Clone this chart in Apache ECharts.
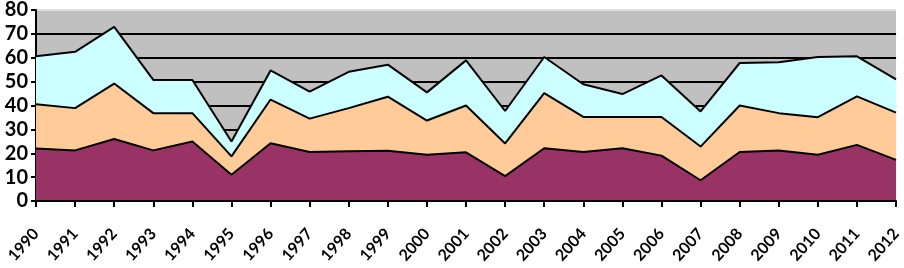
<!DOCTYPE html>
<html>
<head>
<meta charset="utf-8">
<script src="https://cdn.jsdelivr.net/npm/echarts@6/dist/echarts.min.js"></script>
<style>
  html, body { margin: 0; padding: 0; background: #fff; }
  #chart { width: 904px; height: 268px; }
</style>
</head>
<body>
<div id="chart"></div>
<script>
const years = ["1990", "1991", "1992", "1993", "1994", "1995", "1996", "1997", "1998", "1999", "2000", "2001",
  "2002", "2003", "2004", "2005", "2006", "2007", "2008", "2009", "2010", "2011", "2012"];

// bottom band (maroon)
const seriesA = [22, 21.2, 26, 21.2, 24.9, 11, 24.2, 20.5, 20.8, 21, 19.4, 20.4,
  10.4, 22.1, 20.5, 22.1, 19, 8.7, 20.5, 21.2, 19.4, 23.5, 17.2];
// middle band (peach)
const seriesB = [18.5, 17.7, 23.2, 15.6, 11.9, 7.7, 18.3, 14, 18.1, 22.7, 14.3, 19.6,
  13.7, 23.1, 14.7, 13.1, 16.2, 14.1, 19.5, 15.6, 15.7, 20.3, 19.8];
// top band (light cyan)
const seriesC = [20.1, 23.6, 23.7, 13.9, 13.9, 6.2, 12.2, 11.3, 15.2, 13.4, 11.8, 18.9,
  13.6, 15.1, 13.7, 9.6, 17.4, 14.7, 17.8, 21.3, 25.2, 16.8, 13.9];

const yTicks = { min: 0, max: 80, interval: 10 };

const myChart = echarts.init(document.getElementById("chart"));

const band = (name, data, color) => ({
  name: name,
  type: "line",
  stack: "total",
  data: data,
  symbol: "none",
  lineStyle: { color: "#000", width: 2 },
  areaStyle: { color: color, opacity: 1 },
});

const option = {
  animation: false,
  grid: {
    left: 36,
    right: 1,
    top: 6,
    bottom: 67,
    show: true,
    backgroundColor: "#c0c0c0",
    borderWidth: 0,
  },
  xAxis: {
    type: "category",
    boundaryGap: false,
    data: years,
    z: 5,
    axisLine: { lineStyle: { color: "#000", width: 2 } },
    axisTick: { show: true, length: 6, lineStyle: { color: "#000", width: 2 } },
    axisLabel: {
      rotate: 48,
      margin: 30,
      color: "#000",
      fontFamily: "Lato",
      fontWeight: "bold",
      fontSize: 16,
      interval: 0,
    },
  },
  yAxis: {
    type: "value",
    min: yTicks.min,
    max: yTicks.max,
    interval: yTicks.interval,
    axisLine: { show: true, lineStyle: { color: "#000", width: 2 } },
    axisTick: { show: true, length: 5, lineStyle: { color: "#000", width: 2 } },
    axisLabel: {
      margin: 8,
      color: "#000",
      fontFamily: "Lato",
      fontWeight: "bold",
      fontSize: 20,
    },
    splitLine: {
      show: true,
      lineStyle: {
        color: ["#000", "#000", "#000", "#000", "#000", "#000", "#000", "#000", "#e0e0e0"],
        width: 2,
      },
    },
  },
  series: [
    band("A", seriesA, "#993366"),
    band("B", seriesB, "#ffcc99"),
    band("C", seriesC, "#ccffff"),
  ],
};

myChart.setOption(option);
</script>
</body>
</html>
